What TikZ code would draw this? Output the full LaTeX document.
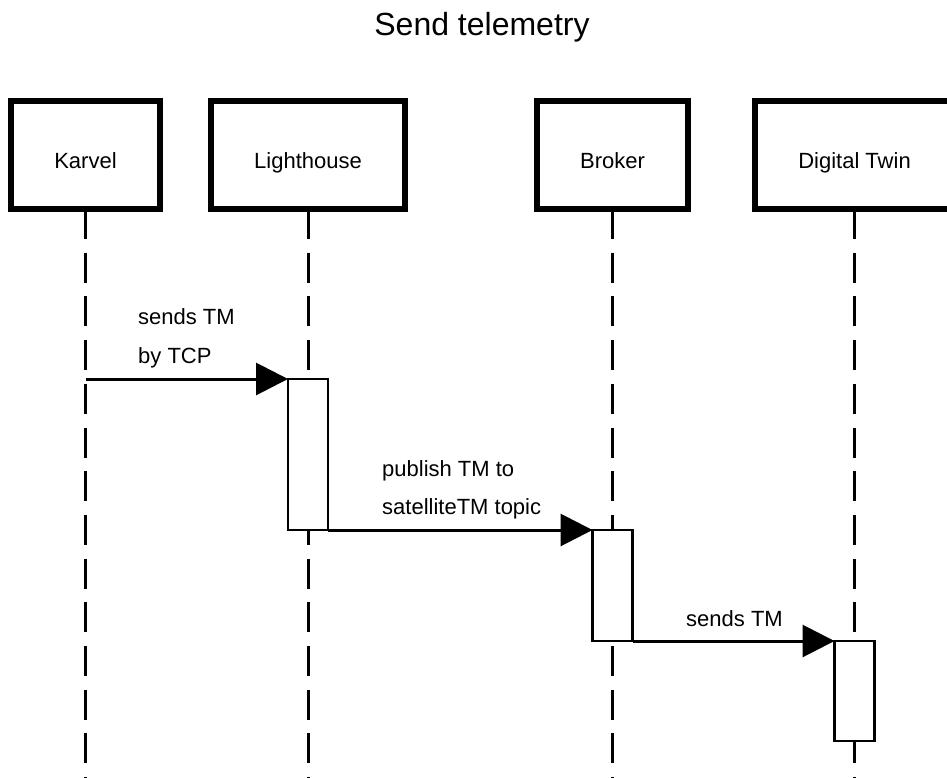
\documentclass[tikz,border=0pt]{standalone}
\usepackage{fontspec}
\setmainfont{Liberation Sans}
\usetikzlibrary{arrows.meta}
\begin{document}
\begin{tikzpicture}[x=1pt,y=-1pt,
 part/.style={draw, line width=6pt, fill=white, minimum height=108pt, inner sep=0pt, outer sep=0pt, text height=28pt, text depth=0pt, font=\fontsize{22}{26}\selectfont},
 life/.style={line width=3pt, dash pattern=on 30pt off 13.7pt},
 act/.style={draw, line width=2.8pt, fill=white, minimum width=40pt, inner sep=0pt, outer sep=0pt},
 msg/.style={line width=3pt, -{Triangle[length=32pt,width=32pt]}},
 lbl/.style={anchor=base west, inner sep=0pt, font=\fontsize{22}{26}\selectfont}]
\useasboundingbox (0,0) rectangle (947,778);
% title
\node[anchor=base, inner sep=0pt, font=\fontsize{32}{38}\selectfont] (title) at (482,36) {Send telemetry};
% participants
\node[part, minimum width=149pt] (karvel) at (85.5,155) {Karvel};
\node[part, minimum width=194pt] (lh) at (308,155) {Lighthouse};
\node[part, minimum width=151pt] (broker) at (612.5,155) {Broker};
\node[part, minimum width=199pt] (dt) at (854.5,155) {Digital Twin};
% lifelines
\coordinate (karvelEnd) at (85.5,778);
\coordinate (lhEnd) at (308,778);
\coordinate (brokerEnd) at (612.5,778);
\coordinate (dtEnd) at (854.5,778);
\draw[life] (karvel.south) -- (karvelEnd);
\draw[life] (lh.south) -- (lhEnd);
\draw[life] (broker.south) -- (brokerEnd);
\draw[life] (dt.south) -- (dtEnd);
% activations
\node[act, minimum height=151pt] (lhAct) at (308,454.5) {};
\node[act, minimum height=111pt] (brAct) at (612.5,585.5) {};
\node[act, minimum height=100pt] (dtAct) at (854.5,691) {};
% messages
\coordinate (m1start) at (karvel.south |- lhAct.north);
\draw[msg] (m1start) -- (lhAct.north west);
\draw[msg] (lhAct.south east) -- (brAct.north west);
\draw[msg] (brAct.south east) -- (dtAct.north west);
% labels
\node[lbl] (l1a) at (138,324) {sends TM};
\node[lbl] (l1b) at (138,363) {by TCP};
\node[lbl] (l2a) at (382,476) {publish TM to};
\node[lbl] (l2b) at (382,514) {satelliteTM topic};
\node[lbl] (l3) at (686,626) {sends TM};
\end{tikzpicture}
\end{document}
